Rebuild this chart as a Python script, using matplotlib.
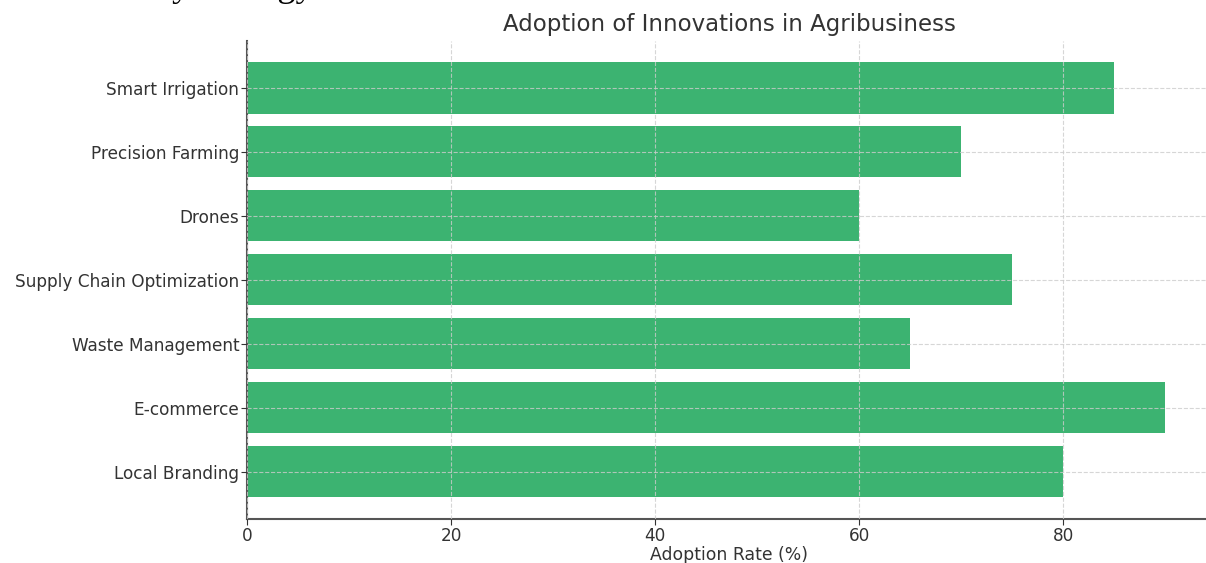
import matplotlib
matplotlib.use("Agg")
import matplotlib.pyplot as plt

categories = ["Local Branding", "E-commerce", "Waste Management",
              "Supply Chain Optimization", "Drones", "Precision Farming",
              "Smart Irrigation"]
values = [80, 90, 65, 75, 60, 70, 85]
xticks = [0, 20, 40, 60, 80]

W, H = 1206, 563
fig = plt.figure(figsize=(W / 100, H / 100), dpi=100)
left, right, top, bottom = 247, 1211, 40.6, 519
ax = fig.add_axes([left / W, 1 - bottom / H, (right - left) / W, (bottom - top) / H])

ax.barh(categories, values, height=0.8, color="#3cb371")
ax.set_xlim(0, 94.5)
ax.set_ylim(-0.74, 6.74)
ax.set_xticks(xticks)
ax.grid(True, linestyle="--", color="#cccccc", linewidth=0.8, alpha=0.8)
ax.set_axisbelow(False)
for s in ["top", "right"]:
    ax.spines[s].set_visible(False)
for s in ["left", "bottom"]:
    ax.spines[s].set_color("#555555")
    ax.spines[s].set_linewidth(1.5)
ax.tick_params(colors="#333333", labelsize=12.2, length=4)
ax.tick_params(axis="y", pad=1.5)
ax.tick_params(axis="x", pad=1.5)
ax.set_title("Adoption of Innovations in Agribusiness", fontsize=16.5, color="#333333", pad=7)
ax.set_xlabel("Adoption Rate (%)", fontsize=12.4, color="#333333", labelpad=1)

fig.text(172 / W, 1 + 4 / H, "y strategy", family="Liberation Serif", fontsize=26,
         color="black", va="baseline", ha="left")

fig.savefig("out.png", dpi=100)
